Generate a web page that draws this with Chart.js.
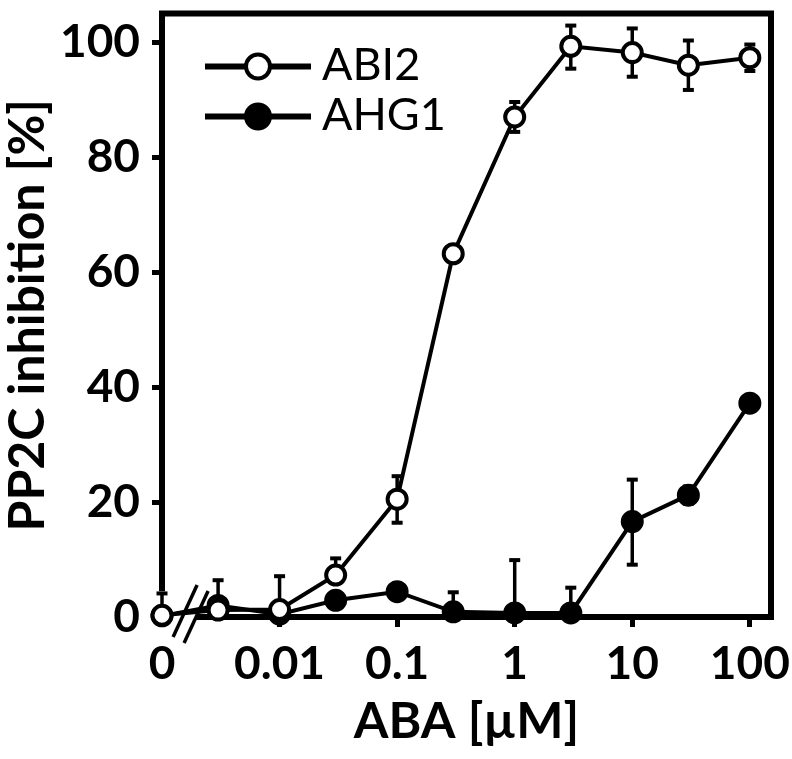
<!DOCTYPE html>
<html><head><meta charset="utf-8">
<script src="https://cdn.jsdelivr.net/npm/chart.js@4.4.1/dist/chart.umd.min.js"></script>
<style>html,body{margin:0;padding:0;background:#fff;} canvas{display:block;}</style>
</head><body>
<canvas id="c" width="792" height="759"></canvas>
<script>
// ABA concentrations (µM); 0 is drawn left of the axis break
const concentrations = [0, 0.003, 0.01, 0.03, 0.1, 0.3, 1, 3, 10, 30, 100];

const abi2        = [0.3, 1.2, 1.3, 7.3, 20.5, 63.2, 87.0, 99.3, 98.2, 96.0, 97.3];
const abi2ErrUp   = [3.8, 5.2, 5.8, 2.9, 4.0, 0.8, 2.6, 3.6, 4.2, 4.3, 2.3];
const abi2ErrDown = [0,   0,   0,   0,   4.1, 0.8, 2.6, 3.9, 4.2, 4.3, 2.3];

const ahg1        = [0.2, 2.0, 0.5, 2.9, 4.4, 0.9, 0.7, 0.7, 16.6, 21.2, 37.2];
const ahg1ErrUp   = [0,   0,   0,   0,   0,   3.4, 9.2, 4.4, 7.3, 1.5, 0.5];
const ahg1ErrDown = [0,   0,   0,   0,   0,   0,   0,   0,   7.5, 1.5, 0.5];

const xTickConc   = [0, 0.01, 0.1, 1, 10, 100];
const xTickLabels = ['0', '0.01', '0.1', '1', '10', '100'];
const yTickValues = [0, 20, 40, 60, 80, 100];

const ZERO_POS = -3;       // position of concentration 0 on the broken log axis
const BREAK_POS = -2.71;   // where the bottom axis resumes after the break
const LEFT_AXIS_END = 4.5; // left axis line stops here (value)
const toPos = c => c === 0 ? ZERO_POS : Math.log10(c);
const pts = vals => concentrations.map((c, i) => ({x: toPos(c), y: vals[i]}));

const FONT = 'Lato';

const framePlugin = {
  id: 'frame',
  beforeDatasetsDraw(chart) {
    const {ctx, chartArea: a, scales: {x, y}} = chart;
    ctx.save();
    ctx.strokeStyle = '#000';
    ctx.lineWidth = 6;
    ctx.lineCap = 'butt';
    ctx.lineJoin = 'miter';
    ctx.beginPath();
    ctx.moveTo(a.left, y.getPixelForValue(LEFT_AXIS_END));
    ctx.lineTo(a.left, a.top);
    ctx.lineTo(a.right, a.top);
    ctx.lineTo(a.right, a.bottom);
    ctx.lineTo(x.getPixelForValue(BREAK_POS), a.bottom);
    ctx.stroke();
    // break marks
    const bx = x.getPixelForValue(BREAK_POS);
    ctx.lineWidth = 3.5;
    [[-11, -6], [0, 0]].forEach(([dx, dy]) => {
      const cx = bx + dx, cy = a.bottom + dy;
      ctx.beginPath();
      ctx.moveTo(cx + 12, cy - 26);
      ctx.lineTo(cx - 12, cy + 26);
      ctx.stroke();
    });
    ctx.restore();
  }
};

const errorBarPlugin = {
  id: 'errbars',
  beforeDatasetsDraw(chart) {
    const {ctx, scales: {y}} = chart;
    ctx.save();
    ctx.strokeStyle = '#000';
    const cap = 5.5;
    const drawBar = (px, py, yp) => {
      ctx.lineWidth = 3.5;
      ctx.beginPath(); ctx.moveTo(px, py); ctx.lineTo(px, yp); ctx.stroke();
      ctx.lineWidth = 4;
      ctx.beginPath(); ctx.moveTo(px - cap, yp); ctx.lineTo(px + cap, yp); ctx.stroke();
    };
    chart.data.datasets.forEach((ds, di) => {
      const meta = chart.getDatasetMeta(di);
      meta.data.forEach((pt, i) => {
        const v = ds.data[i].y;
        if (ds.errUp[i] > 0) drawBar(pt.x, pt.y, y.getPixelForValue(v + ds.errUp[i]));
        if (ds.errDown[i] > 0) drawBar(pt.x, pt.y, y.getPixelForValue(v - ds.errDown[i]));
      });
    });
    ctx.restore();
  }
};

const legendPlugin = {
  id: 'insideLegend',
  afterDatasetsDraw(chart) {
    const {ctx, chartArea: a} = chart;
    ctx.save();
    chart.data.datasets.forEach((ds, i) => {
      const yMid = a.top + 53 + i * 50;
      const x0 = a.left + 43, x1 = a.left + 149, xc = (x0 + x1) / 2;
      ctx.strokeStyle = '#000';
      ctx.lineWidth = 6;
      ctx.beginPath(); ctx.moveTo(x0, yMid); ctx.lineTo(x1, yMid); ctx.stroke();
      ctx.beginPath();
      ctx.arc(xc, yMid, 12, 0, Math.PI * 2);
      ctx.fillStyle = ds.pointBackgroundColor;
      ctx.fill();
      ctx.lineWidth = 4;
      ctx.stroke();
      ctx.fillStyle = '#000';
      ctx.font = 'normal 45px ' + FONT;
      ctx.textBaseline = 'alphabetic';
      ctx.textAlign = 'left';
      ctx.fillText(ds.label, a.left + 160, yMid + 13);
    });
    ctx.restore();
  }
};

const tickFont = {family: FONT, size: 46, weight: 'bold'};
const titleFont = {family: FONT, size: 50, weight: 'bold', lineHeight: 1};

new Chart(document.getElementById('c').getContext('2d'), {
  type: 'line',
  data: {
    datasets: [
      {
        label: 'ABI2', data: pts(abi2), errUp: abi2ErrUp, errDown: abi2ErrDown,
        borderColor: '#000', borderWidth: 4, backgroundColor: '#fff',
        pointBackgroundColor: '#fff', pointBorderColor: '#000',
        pointRadius: 9.5, pointBorderWidth: 4, clip: false, tension: 0
      },
      {
        label: 'AHG1', data: pts(ahg1), errUp: ahg1ErrUp, errDown: ahg1ErrDown,
        borderColor: '#000', borderWidth: 4, backgroundColor: '#000',
        pointBackgroundColor: '#000', pointBorderColor: '#000',
        pointRadius: 10, pointBorderWidth: 3, clip: false, tension: 0
      }
    ]
  },
  options: {
    responsive: false, animation: false, devicePixelRatio: 1,
    layout: {padding: {top: 9, right: 21, left: 0, bottom: 0}},
    plugins: {legend: {display: false}, tooltip: {enabled: false}},
    scales: {
      x: {
        type: 'linear', min: -3, max: 2.18,
        afterFit(s) { s.height = 142; s.paddingLeft = 0; s.paddingRight = 0; },
        afterBuildTicks(s) { s.ticks = xTickConc.map(c => ({value: toPos(c)})); },
        ticks: {
          callback: (v, i) => xTickLabels[i], font: tickFont, color: '#000',
          padding: 10, maxRotation: 0, autoSkip: false
        },
        grid: {
          display: true, drawOnChartArea: false, drawTicks: true, tickLength: 10, tickWidth: 5,
          tickColor: c => (c.tick && c.tick.value === ZERO_POS) ? 'rgba(0,0,0,0)' : '#000'
        },
        border: {display: false},
        title: {display: true, text: 'ABA [µM]', font: titleFont, color: '#000', padding: {top: 0, bottom: 12}}
      },
      y: {
        type: 'linear', min: 0, max: 105,
        afterFit(s) { s.width = 162; s.paddingTop = 0; s.paddingBottom = 0; },
        afterBuildTicks(s) { s.ticks = yTickValues.map(v => ({value: v})); },
        ticks: {font: tickFont, color: '#000', padding: 12},
        grid: {
          display: true, drawOnChartArea: false, drawTicks: true, tickLength: 10, tickWidth: 5,
          tickColor: c => (c.tick && c.tick.value === 0) ? 'rgba(0,0,0,0)' : '#000'
        },
        border: {display: false},
        title: {display: true, text: 'PP2C inhibition [%]', font: titleFont, color: '#000', padding: {top: 3, bottom: 0}}
      }
    }
  },
  plugins: [framePlugin, errorBarPlugin, legendPlugin]
});
</script>
</body></html>
